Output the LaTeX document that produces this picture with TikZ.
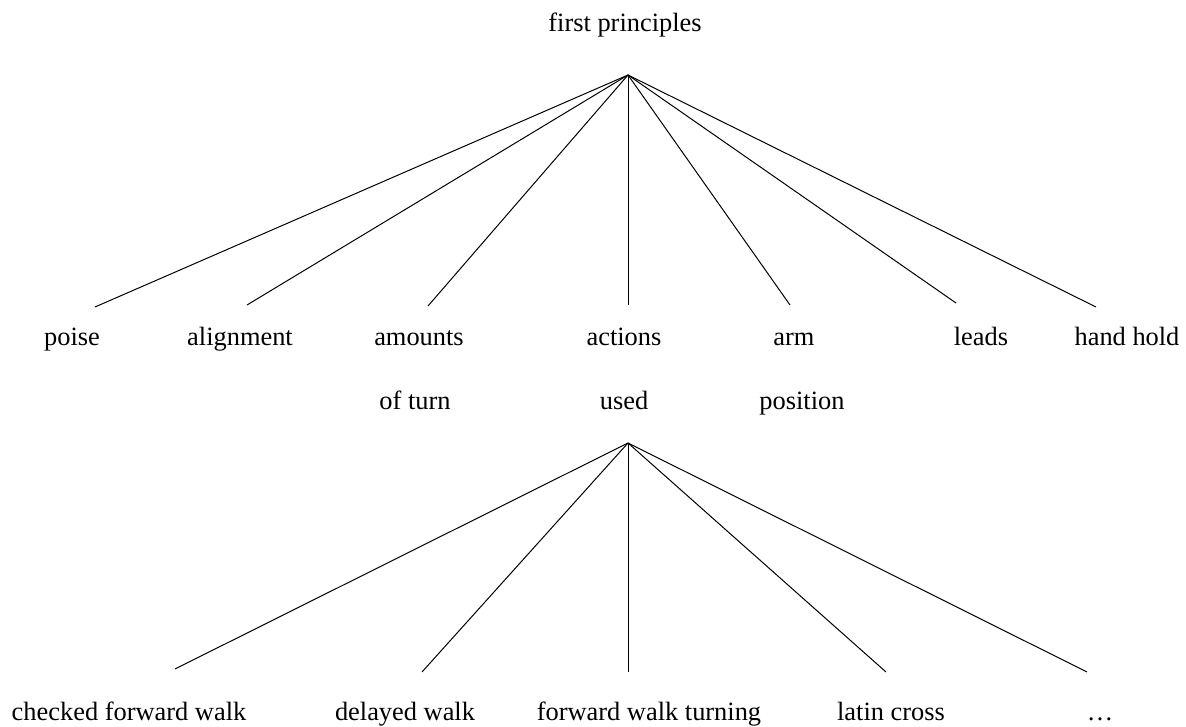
\documentclass[tikz,border=0pt]{standalone}
\usepackage{fontspec}
\setmainfont{Liberation Serif}
\tikzset{
  lbl/.style={anchor=base, inner sep=0pt, font=\fontsize{26.4}{30}\selectfont},
  branch/.style={line width=1pt, black}
}
\begin{document}
\begin{tikzpicture}[x=1pt, y=-1pt]
  \useasboundingbox (0,0) rectangle (1186,727);

  % upper tree
  \node[lbl] (top) at (625,32) {first principles};
  \coordinate (r1) at (628,75);

  \node[lbl] (poise) at (72,345) {poise};
  \node[lbl] (align) at (240,345) {alignment};
  \node[lbl] (amounts) at (419,345) {amounts};
  \node[lbl] (amounts2) at (415,409) {of turn};
  \node[lbl] (actions) at (624,345) {actions};
  \node[lbl] (actions2) at (624,409) {used};
  \node[lbl] (arm) at (794,345) {arm};
  \node[lbl] (arm2) at (802,409) {position};
  \node[lbl] (leads) at (981,345) {leads};
  \node[lbl] (hand) at (1127,345) {hand hold};

  \coordinate (ePoise) at (95,307);
  \coordinate (eAlign) at (247,305);
  \coordinate (eAmounts) at (428,306);
  \coordinate (eActions) at (628,305);
  \coordinate (eArm) at (790,305);
  \coordinate (eLeads) at (956,303);
  \coordinate (eHand) at (1096,307);

  \foreach \e in {ePoise,eAlign,eAmounts,eActions,eArm,eLeads,eHand}
    \draw[branch] (r1) -- (\e);

  % lower tree
  \coordinate (r2) at (628,443);

  \node[lbl] (checked) at (129,720) {checked forward walk};
  \node[lbl] (delayed) at (405,720) {delayed walk};
  \node[lbl] (fwturn) at (649,720) {forward walk turning};
  \node[lbl] (latin) at (891,720) {latin cross};
  \node[lbl] (more) at (1100,720) {…};

  \coordinate (eChecked) at (175,669);
  \coordinate (eDelayed) at (422,672);
  \coordinate (eFwturn) at (628,672);
  \coordinate (eLatin) at (886,672);
  \coordinate (eMore) at (1087,672);

  \foreach \e in {eChecked,eDelayed,eFwturn,eLatin,eMore}
    \draw[branch] (r2) -- (\e);
\end{tikzpicture}
\end{document}
